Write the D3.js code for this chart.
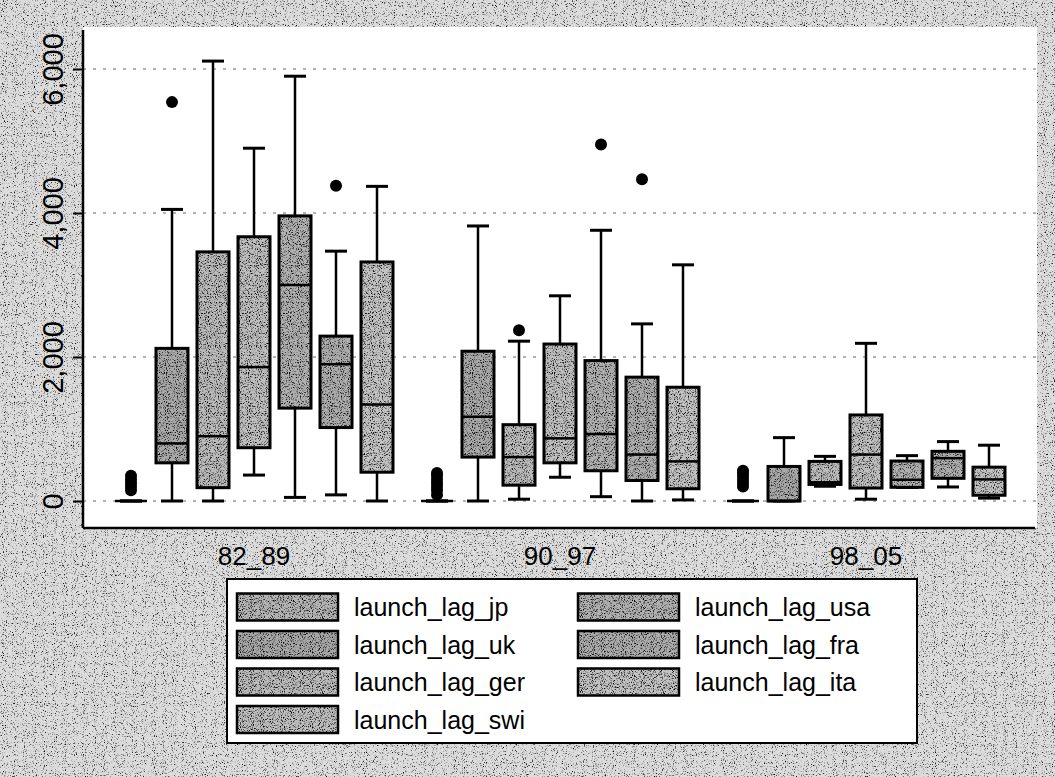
<!DOCTYPE html>
<html>
<head>
<meta charset="utf-8">
<script src="https://cdn.jsdelivr.net/npm/d3@7/dist/d3.min.js"></script>
<style>
    body { margin: 0; background: #c4c4c4; }
    svg { display: block; }
</style>
</head>
<body>
<svg id="chart"></svg>
<script>
// Periods on the x axis and the seven launch lag variables
const periods = ['82_89', '90_97', '98_05'];
const countries = ['launch_lag_jp', 'launch_lag_uk', 'launch_lag_ger', 'launch_lag_swi',
    'launch_lag_usa', 'launch_lag_fra', 'launch_lag_ita'];

// Five number summaries per country: [lower whisker, q1, median, q3, upper whisker]
const stats82_89 = [
    [0, 0, 0, 0, 0],
    [0, 530, 800, 2120, 4050],
    [0, 185, 900, 3460, 6110],
    [360, 740, 1860, 3670, 4900],
    [50, 1290, 3000, 3960, 5900],
    [85, 1020, 1900, 2290, 3470],
    [0, 400, 1340, 3320, 4370]
];
const stats90_97 = [
    [0, 0, 0, 0, 0],
    [0, 610, 1170, 2080, 3820],
    [25, 220, 610, 1060, 2220],
    [330, 530, 870, 2180, 2850],
    [60, 420, 930, 1950, 3760],
    [0, 285, 645, 1720, 2460],
    [15, 170, 550, 1580, 3280]
];
const stats98_05 = [
    [0, 0, 0, 0, 0],
    [0, 0, 0, 480, 880],
    [205, 230, 260, 550, 620],
    [25, 180, 645, 1195, 2190],
    [190, 190, 295, 555, 630],
    [195, 315, 595, 690, 825],
    [40, 80, 300, 470, 775]
];

// Outside values per country
const outliers82_89 = [[150, 200, 250, 300, 350], [5540], [], [], [], [4380], []];
const outliers90_97 = [[85, 150, 200, 250, 300, 350, 390], [], [2370], [], [4950], [4470], []];
const outliers98_05 = [[200, 250, 300, 350, 400, 420], [], [], [], [], [], []];

const yTicks = [0, 2000, 4000, 6000];

// grey shade for each country's box
const shades = ['#b4b4b4', '#a8a8a8', '#bababa', '#bebebe', '#b0b0b0', '#acacac', '#c2c2c2'];

const width = 1055;
const height = 777;
const plot = { left: 83, right: 1037, top: 27, bottom: 528 };

const groups = [
    { period: periods[0], stats: stats82_89, outliers: outliers82_89 },
    { period: periods[1], stats: stats90_97, outliers: outliers90_97 },
    { period: periods[2], stats: stats98_05, outliers: outliers98_05 }
];

const svg = d3.select('#chart')
    .attr('width', width)
    .attr('height', height)
    .attr('font-family', '"Liberation Sans", Arial, sans-serif');

const defs = svg.append('defs');

// speckle filter, gives the scanned halftone look
function speckle (id, strength, offset, seed) {
    const f = defs.append('filter')
        .attr('id', id)
        .attr('color-interpolation-filters', 'sRGB');
    f.append('feTurbulence')
        .attr('type', 'fractalNoise')
        .attr('baseFrequency', 0.9)
        .attr('numOctaves', 2)
        .attr('seed', seed)
        .attr('result', 't');
    f.append('feColorMatrix')
        .attr('in', 't')
        .attr('type', 'matrix')
        .attr('values', `0 0 0 0 0  0 0 0 0 0  0 0 0 0 0  ${strength} 0 0 0 ${offset}`)
        .attr('result', 'dots');
    f.append('feComposite')
        .attr('in', 'dots')
        .attr('in2', 'SourceGraphic')
        .attr('operator', 'in')
        .attr('result', 'clipped');
    const m = f.append('feMerge');
    m.append('feMergeNode').attr('in', 'SourceGraphic');
    m.append('feMergeNode').attr('in', 'clipped');
}
speckle('paper', 4, -2.3, 4);
speckle('halftone', 4, -2.05, 9);

// page background
svg.append('rect')
    .attr('width', width)
    .attr('height', height)
    .attr('fill', '#dcdcdc')
    .attr('filter', 'url(#paper)');

// white plot region
svg.append('rect')
    .attr('x', plot.left)
    .attr('y', plot.top)
    .attr('width', plot.right - plot.left)
    .attr('height', plot.bottom - plot.top)
    .attr('fill', '#fff');

const y = d3.scaleLinear().domain([0, 6000]).range([501, 69]);
const x = d3.scaleBand().domain(periods).range([101, 1019]);
const inner = d3.scalePoint().domain(countries).range([-123, 123]);
const boxWidth = 32;
const capWidth = 22;

// dotted grid lines
svg.append('g')
    .selectAll('line')
    .data(yTicks)
    .enter()
    .append('line')
    .attr('x1', plot.left)
    .attr('x2', plot.right)
    .attr('y1', d => y(d))
    .attr('y2', d => y(d))
    .attr('stroke', '#666')
    .attr('stroke-width', 1)
    .attr('stroke-dasharray', '3,7');

// y axis with rotated labels
const yAxis = svg.append('g')
    .attr('transform', `translate(${plot.left},0)`)
    .call(d3.axisLeft(y).tickValues(yTicks).tickSize(10).tickFormat(d3.format(',')));
yAxis.select('.domain').remove();
yAxis.selectAll('.tick line').attr('stroke', '#000').attr('stroke-width', 2);
yAxis.selectAll('.tick text')
    .attr('x', 0)
    .attr('dy', 0)
    .attr('transform', 'translate(-20,0) rotate(-90)')
    .attr('text-anchor', 'middle')
    .attr('font-size', 29)
    .attr('font-family', '"Liberation Sans", Arial, sans-serif')
    .attr('fill', '#000');

// axis lines
svg.append('line')
    .attr('x1', plot.left).attr('x2', plot.left)
    .attr('y1', 30).attr('y2', plot.bottom)
    .attr('stroke', '#000').attr('stroke-width', 2.5);
svg.append('line')
    .attr('x1', plot.left).attr('x2', 1035)
    .attr('y1', plot.bottom).attr('y2', plot.bottom)
    .attr('stroke', '#000').attr('stroke-width', 2.5);

// period labels
svg.append('g')
    .selectAll('text')
    .data(periods)
    .enter()
    .append('text')
    .attr('x', d => x(d) + x.bandwidth() / 2)
    .attr('y', 565)
    .attr('text-anchor', 'middle')
    .attr('font-size', 26)
    .text(d => d);

// flatten to one entry per box
const boxes = [];
groups.forEach(g => {
    countries.forEach((c, i) => {
        const [lo, q1, med, q3, hi] = g.stats[i];
        boxes.push({
            cx: x(g.period) + x.bandwidth() / 2 + inner(c),
            lo, q1, med, q3, hi,
            outliers: g.outliers[i],
            shade: shades[i]
        });
    });
});

const box = svg.append('g')
    .selectAll('g')
    .data(boxes)
    .enter()
    .append('g')
    .attr('transform', d => `translate(${d.cx},0)`);

// whiskers
box.append('line')
    .attr('y1', d => y(d.hi)).attr('y2', d => y(d.q3))
    .attr('stroke', '#000').attr('stroke-width', 2.5);
box.append('line')
    .attr('y1', d => y(d.q1)).attr('y2', d => y(d.lo))
    .attr('stroke', '#000').attr('stroke-width', 2.5);
box.selectAll('.cap')
    .data(d => [d.hi, d.lo])
    .enter()
    .append('line')
    .attr('class', 'cap')
    .attr('x1', -capWidth / 2).attr('x2', capWidth / 2)
    .attr('y1', d => y(d)).attr('y2', d => y(d))
    .attr('stroke', '#000').attr('stroke-width', 3);

// boxes with halftone fill
box.filter(d => d.q3 > d.q1)
    .append('rect')
    .attr('x', -boxWidth / 2)
    .attr('y', d => y(d.q3))
    .attr('width', boxWidth)
    .attr('height', d => y(d.q1) - y(d.q3))
    .attr('fill', d => d.shade)
    .attr('filter', 'url(#halftone)');
box.filter(d => d.q3 > d.q1)
    .append('rect')
    .attr('x', -boxWidth / 2)
    .attr('y', d => y(d.q3))
    .attr('width', boxWidth)
    .attr('height', d => y(d.q1) - y(d.q3))
    .attr('fill', 'none')
    .attr('stroke', '#000')
    .attr('stroke-width', 3);

// median
box.append('line')
    .attr('x1', -boxWidth / 2).attr('x2', boxWidth / 2)
    .attr('y1', d => y(d.med)).attr('y2', d => y(d.med))
    .attr('stroke', '#000').attr('stroke-width', 2.5);

// outside values
box.selectAll('circle')
    .data(d => d.outliers)
    .enter()
    .append('circle')
    .attr('cy', d => y(d))
    .attr('r', 6)
    .attr('fill', '#000');

// legend, filled column first
const legend = svg.append('g');
legend.append('rect')
    .attr('x', 227)
    .attr('y', 579)
    .attr('width', 690)
    .attr('height', 164)
    .attr('fill', '#fff')
    .attr('stroke', '#000')
    .attr('stroke-width', 2);

const key = legend.selectAll('g')
    .data(countries)
    .enter()
    .append('g')
    .attr('transform', (d, i) => `translate(${237 + Math.floor(i / 4) * 341},${607 + (i % 4) * 37.5})`);
key.append('rect')
    .attr('x', 0)
    .attr('y', -13.5)
    .attr('width', 101)
    .attr('height', 27)
    .attr('fill', (d, i) => shades[i])
    .attr('filter', 'url(#halftone)');
key.append('rect')
    .attr('x', 0)
    .attr('y', -13.5)
    .attr('width', 101)
    .attr('height', 27)
    .attr('fill', 'none')
    .attr('stroke', '#000')
    .attr('stroke-width', 2.5);
key.append('text')
    .attr('x', 117)
    .attr('y', 9)
    .attr('font-size', 25)
    .text(d => d);
</script>
</body>
</html>
